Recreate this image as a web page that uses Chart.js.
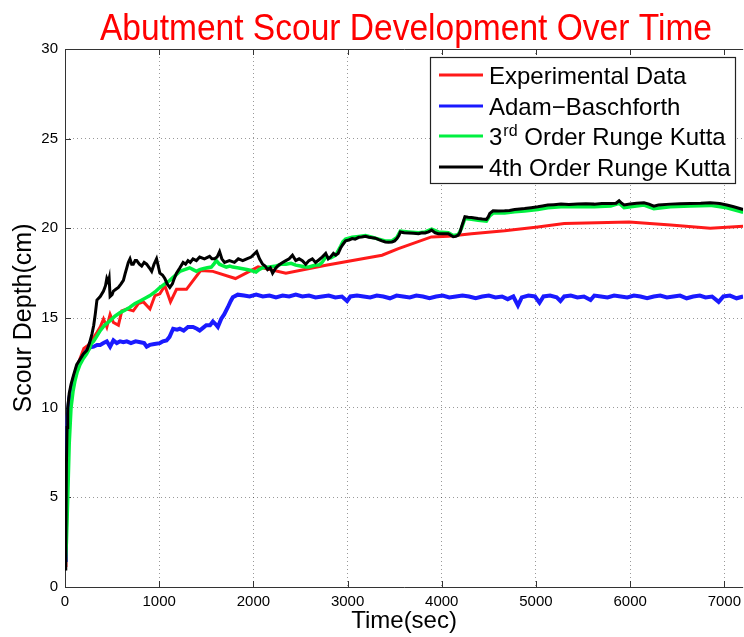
<!DOCTYPE html>
<html><head><meta charset="utf-8">
<script src="https://cdn.jsdelivr.net/npm/chart.js@4.4.1/dist/chart.umd.min.js"></script>
<style>
html,body{margin:0;padding:0;background:#fff;overflow:hidden;width:744px;height:637px;}
#wrap{position:relative;width:747px;height:637px;}
canvas{display:block;}
</style></head><body>
<div id="wrap"><canvas id="c" width="747" height="637"></canvas></div>
<script>
const chartTitle = "Abutment Scour Development Over Time";
const xAxisTitle = "Time(sec)";
const yAxisTitle = "Scour Depth(cm)";
const seriesLabels = ["Experimental Data", "Adam\u2212Baschforth", "3^{rd} Order Runge Kutta", "4th Order Runge Kutta"];
const xTicks = [0, 1000, 2000, 3000, 4000, 5000, 6000, 7000];
const yTicks = [0, 5, 10, 15, 20, 25, 30];

// [time (sec), scour depth (cm)]
const experimental = [[0,1.2],[10,1.4],[20,4.5],[35,8.5],[60,10.6],[100,11.8],[150,12.6],[200,13.3],[250,13.5],[303,13.9],[340,14.2],[374,14.5],[409,14.95],[444,14.5],[479,15.2],[514,14.75],[567,14.6],[603,15.4],[656,15.5],[725,15.4],[779,15.8],[832,15.9],[902,15.5],[955,16.25],[1007,16.35],[1060,16.8],[1120,15.9],[1184,16.6],[1290,16.6],[1440,17.65],[1570,17.6],[1810,17.2],[2050,17.85],[2345,17.5],[2770,17.94],[3366,18.5],[3540,18.87],[3890,19.52],[4070,19.56],[4316,19.7],[4668,19.86],[5020,20.08],[5300,20.27],[5990,20.35],[6430,20.18],[6850,20.0],[7200,20.12]];

const adamsBashforth = [[0,1.5],[8,2.0],[15,6.0],[29,9.5],[45,10.5],[64,11.0],[90,11.6],[124,12.2],[160,12.6],[195,12.9],[233,13.2],[268,13.36],[303,13.4],[340,13.5],[374,13.5],[409,13.6],[444,13.7],[479,13.4],[514,13.75],[550,13.6],[585,13.7],[620,13.65],[656,13.7],[700,13.6],[750,13.7],[800,13.65],[840,13.6],[867,13.4],[900,13.5],[950,13.55],[1007,13.6],[1040,13.7],[1078,13.75],[1110,13.95],[1148,14.4],[1190,14.35],[1219,14.4],[1260,14.3],[1306,14.5],[1359,14.5],[1400,14.4],[1430,14.3],[1465,14.45],[1500,14.6],[1540,14.6],[1570,14.8],[1600,14.65],[1623,14.5],[1658,14.95],[1690,15.2],[1729,15.6],[1760,15.95],[1782,16.16],[1834,16.3],[1900,16.25],[1960,16.2],[2030,16.3],[2100,16.2],[2170,16.25],[2240,16.15],[2310,16.25],[2380,16.2],[2450,16.3],[2520,16.2],[2590,16.25],[2660,16.15],[2730,16.2],[2800,16.25],[2870,16.15],[2940,16.2],[2995,15.95],[3030,16.2],[3100,16.25],[3170,16.2],[3240,16.15],[3310,16.25],[3380,16.2],[3450,16.1],[3520,16.25],[3590,16.2],[3660,16.15],[3730,16.25],[3800,16.2],[3870,16.1],[3940,16.2],[4010,16.25],[4080,16.15],[4150,16.2],[4220,16.25],[4290,16.2],[4360,16.1],[4430,16.2],[4500,16.25],[4570,16.15],[4640,16.2],[4700,16.05],[4760,16.2],[4809,15.7],[4850,16.15],[4920,16.25],[4990,16.2],[5038,15.85],[5080,16.2],[5150,16.25],[5220,16.15],[5260,15.95],[5300,16.2],[5370,16.25],[5440,16.15],[5510,16.2],[5580,16.0],[5620,16.25],[5690,16.2],[5760,16.15],[5830,16.25],[5900,16.2],[5970,16.15],[6040,16.25],[6110,16.2],[6180,16.1],[6250,16.2],[6320,16.25],[6390,16.15],[6460,16.2],[6530,16.25],[6600,16.1],[6670,16.2],[6740,16.25],[6800,16.15],[6870,16.2],[6940,15.9],[6990,16.2],[7060,16.25],[7130,16.1],[7200,16.2]];

const rungeKutta3 = [[0,1.0],[5,1.0],[15,2.5],[29,4.95],[45,8.0],[64,10.0],[85,10.9],[106,11.5],[130,12.0],[159,12.4],[195,12.75],[230,13.0],[260,13.3],[282,13.6],[303,13.7],[340,14.0],[374,14.3],[420,14.6],[479,14.85],[530,15.1],[585,15.3],[640,15.45],[690,15.6],[740,15.8],[796,15.95],[850,16.1],[902,16.25],[955,16.45],[1007,16.7],[1060,16.9],[1113,17.1],[1166,17.35],[1219,17.6],[1270,17.7],[1324,17.8],[1360,17.7],[1395,17.6],[1430,17.7],[1465,17.75],[1510,17.8],[1553,17.84],[1580,18.0],[1606,18.2],[1640,18.0],[1680,17.9],[1712,17.84],[1750,17.9],[1782,17.84],[1830,17.8],[1887,17.75],[1930,17.7],[1976,17.65],[2028,17.56],[2060,17.7],[2100,17.8],[2170,17.85],[2240,17.9],[2300,18.0],[2345,18.0],[2400,18.05],[2450,17.95],[2500,17.9],[2556,17.85],[2590,17.85],[2626,17.9],[2660,17.95],[2697,17.95],[2730,18.1],[2768,18.4],[2820,18.35],[2873,18.5],[2926,19.0],[2950,19.25],[2979,19.4],[3049,19.5],[3119,19.55],[3190,19.6],[3260,19.5],[3331,19.4],[3401,19.3],[3471,19.3],[3524,19.5],[3560,19.85],[3647,19.8],[3753,19.75],[3824,19.8],[3893,19.95],[3964,19.8],[4070,19.75],[4122,19.6],[4175,19.65],[4210,20.0],[4246,20.55],[4316,20.5],[4386,20.45],[4474,20.4],[4510,20.7],[4545,20.85],[4668,20.85],[4774,20.92],[4880,20.97],[5020,21.05],[5126,21.15],[5266,21.2],[5442,21.2],[5619,21.2],[5794,21.25],[5883,21.4],[5936,21.15],[6147,21.3],[6252,21.1],[6428,21.2],[6639,21.25],[6850,21.28],[7026,21.15],[7200,20.9]];

const rungeKutta4 = [[0,1.0],[8,1.8],[15,6.8],[22,8.9],[29,10.0],[45,10.8],[64,11.3],[90,11.8],[124,12.4],[160,12.7],[195,13.0],[233,13.2],[260,13.6],[286,14.1],[305,14.6],[321,15.2],[339,16.0],[374,16.2],[409,16.5],[430,16.8],[444,17.2],[460,17.0],[469,17.2],[479,16.2],[500,16.3],[514,16.5],[540,16.6],[567,16.7],[595,16.9],[620,17.1],[640,17.5],[656,17.8],[672,18.1],[690,18.3],[708,18.0],[725,18.0],[745,18.2],[761,18.2],[790,18.0],[814,17.9],[840,18.1],[867,18.0],[895,17.8],[920,17.6],[945,18.0],[972,18.3],[990,17.9],[1007,17.5],[1035,17.4],[1060,17.2],[1085,16.9],[1113,16.7],[1140,16.9],[1160,17.2],[1184,17.5],[1220,17.8],[1254,18.1],[1280,18.0],[1306,18.2],[1330,18.1],[1359,18.3],[1395,18.2],[1430,18.4],[1480,18.3],[1535,18.44],[1560,18.3],[1588,18.3],[1615,18.4],[1641,18.7],[1665,18.3],[1694,18.1],[1745,18.2],[1799,18.1],[1840,18.3],[1887,18.2],[1930,18.3],[1976,18.4],[2035,18.7],[2065,18.3],[2098,18.0],[2125,17.9],[2151,17.7],[2180,17.8],[2204,17.5],[2240,17.8],[2275,17.97],[2310,18.1],[2345,18.2],[2380,18.3],[2415,18.5],[2450,18.2],[2486,18.3],[2520,18.2],[2556,18.0],[2590,18.2],[2626,18.3],[2660,18.1],[2697,18.25],[2730,18.4],[2768,18.6],[2795,18.3],[2820,18.4],[2850,18.6],[2873,18.5],[2900,18.6],[2926,18.9],[2950,19.1],[2979,19.3],[3015,19.35],[3049,19.43],[3080,19.4],[3119,19.5],[3150,19.52],[3190,19.56],[3225,19.5],[3260,19.48],[3295,19.45],[3331,19.37],[3365,19.3],[3401,19.24],[3435,19.22],[3471,19.24],[3500,19.3],[3524,19.43],[3545,19.6],[3560,19.8],[3600,19.75],[3647,19.74],[3700,19.72],[3753,19.7],[3790,19.75],[3824,19.74],[3860,19.8],[3893,19.9],[3930,19.75],[3964,19.7],[4020,19.7],[4070,19.7],[4100,19.6],[4122,19.53],[4150,19.55],[4175,19.62],[4195,19.8],[4210,20.08],[4230,20.4],[4246,20.65],[4280,20.62],[4316,20.6],[4350,20.58],[4386,20.55],[4430,20.52],[4474,20.5],[4495,20.65],[4510,20.83],[4545,20.98],[4600,20.97],[4668,20.98],[4720,21.0],[4774,21.05],[4830,21.08],[4880,21.1],[4950,21.15],[5020,21.2],[5070,21.25],[5126,21.3],[5190,21.32],[5266,21.35],[5350,21.33],[5442,21.35],[5530,21.37],[5619,21.35],[5700,21.38],[5794,21.39],[5850,21.4],[5883,21.54],[5910,21.4],[5936,21.3],[6000,21.36],[6070,21.4],[6147,21.43],[6200,21.35],[6252,21.24],[6300,21.3],[6428,21.35],[6530,21.37],[6639,21.39],[6750,21.4],[6850,21.43],[6950,21.38],[7026,21.3],[7100,21.2],[7200,21.05]];

const FONT = '"Liberation Sans", Arial, Helvetica, sans-serif';
const toXY = arr => arr.map(p => ({x: p[0], y: p[1]}));
const colors = ['#ff1a1a', '#1a1aff', '#00f040', '#000000'];
const seriesData = [experimental, adamsBashforth, rungeKutta3, rungeKutta4];

const titlePlugin = {
  id: 'titlePlugin',
  afterDraw(chart) {
    const ctx = chart.ctx;
    ctx.save();
    ctx.font = '36px ' + FONT;
    ctx.fillStyle = '#ff0000';
    ctx.textAlign = 'center';
    ctx.textBaseline = 'alphabetic';
    const w = ctx.measureText(chartTitle).width;
    const sx = Math.min(1, 612 / w);
    ctx.translate(406, 40);
    ctx.scale(sx, 1);
    ctx.fillText(chartTitle, 0, 0);
    ctx.restore();
  }
};

const framePlugin = {
  id: 'framePlugin',
  beforeDatasetsDraw(chart) {
    const ctx = chart.ctx, a = chart.chartArea;
    const xs = chart.scales.x, ys = chart.scales.y;
    ctx.save();
    ctx.strokeStyle = '#333';
    ctx.lineWidth = 1;
    ctx.beginPath();
    ctx.moveTo(a.left + 0.5, a.top + 0.5);
    ctx.lineTo(a.left + 0.5, a.bottom + 0.5);
    ctx.lineTo(a.right, a.bottom + 0.5);
    ctx.moveTo(a.left + 0.5, a.top + 0.5);
    ctx.lineTo(a.right, a.top + 0.5);
    xTicks.forEach(v => {
      const px = Math.round(xs.getPixelForValue(v)) + 0.5;
      ctx.moveTo(px, a.bottom); ctx.lineTo(px, a.bottom - 6);
      ctx.moveTo(px, a.top); ctx.lineTo(px, a.top + 6);
    });
    yTicks.forEach(v => {
      const py = Math.round(ys.getPixelForValue(v)) + 0.5;
      ctx.moveTo(a.left, py); ctx.lineTo(a.left + 6, py);
    });
    ctx.stroke();
    ctx.restore();
  }
};

const legendPlugin = {
  id: 'legendPlugin',
  afterDraw(chart) {
    const ctx = chart.ctx;
    const box = {l: 430, t: 57, r: 735, b: 183};
    const rows = [75, 106, 136, 167];
    ctx.save();
    ctx.fillStyle = '#fff';
    ctx.fillRect(box.l, box.t, box.r - box.l, box.b - box.t);
    ctx.strokeStyle = '#222';
    ctx.lineWidth = 1.2;
    ctx.strokeRect(box.l + 0.5, box.t + 0.5, box.r - box.l, box.b - box.t);
    chart.data.datasets.forEach((ds, i) => {
      const y = rows[i];
      ctx.strokeStyle = ds.borderColor;
      ctx.lineWidth = 3;
      ctx.beginPath();
      ctx.moveTo(439, y); ctx.lineTo(483, y);
      ctx.stroke();
      ctx.fillStyle = '#000';
      ctx.textBaseline = 'alphabetic';
      ctx.textAlign = 'left';
      let x = 489;
      const base = y + 9;
      const parts = ds.label.split(/(\^\{[^}]*\})/);
      parts.forEach(p => {
        if (!p) return;
        if (p.startsWith('^{')) {
          const s = p.slice(2, -1);
          ctx.font = '16px ' + FONT;
          ctx.fillText(s, x + 1, base - 9);
          x += ctx.measureText(s).width + 1;
        } else {
          ctx.font = '24px ' + FONT;
          ctx.fillText(p, x, base);
          x += ctx.measureText(p).width;
        }
      });
    });
    ctx.restore();
  }
};

const datasets = seriesData.map((d, i) => ({
  label: seriesLabels[i],
  data: toXY(d),
  borderColor: colors[i],
  backgroundColor: colors[i],
  borderWidth: [3, 4, 3.5, 3][i],
  pointRadius: 0,
  tension: 0,
  fill: false,
  order: 4 - i
}));

new Chart(document.getElementById('c'), {
  type: 'line',
  data: {datasets},
  plugins: [framePlugin, legendPlugin, titlePlugin],
  options: {
    responsive: false,
    animation: false,
    devicePixelRatio: 1,
    layout: {padding: {top: 49, left: 0, right: 0, bottom: 0}},
    plugins: {legend: {display: false}, title: {display: false}, tooltip: {enabled: false}},
    scales: {
      x: {
        type: 'linear', min: 0, max: 7200,
        afterBuildTicks: s => { s.ticks = xTicks.map(v => ({value: v})); },
        afterFit: s => { s.height = 50; },
        grid: {color: 'rgba(0,0,0,0.4)', lineWidth: 1, drawTicks: false},
        border: {display: false, dash: [1, 3]},
        ticks: {font: {family: FONT, size: 15}, color: '#000', padding: 6, maxRotation: 0, autoSkip: false, callback: v => String(v)},
        title: {display: true, text: xAxisTitle, font: {family: FONT, size: 24}, color: '#000', padding: {top: 0, bottom: 1}}
      },
      y: {
        type: 'linear', min: 0, max: 30,
        afterBuildTicks: s => { s.ticks = yTicks.map(v => ({value: v})); },
        afterFit: s => { s.width = 65; },
        grid: {color: 'rgba(0,0,0,0.4)', lineWidth: 1, drawTicks: false},
        border: {display: false, dash: [1, 3]},
        ticks: {font: {family: FONT, size: 15}, color: '#000', padding: 7, callback: v => String(v)},
        title: {display: true, text: yAxisTitle, font: {family: FONT, size: 25}, color: '#000', padding: {top: 9, bottom: 0}}
      }
    }
  }
});
</script>
</body></html>
